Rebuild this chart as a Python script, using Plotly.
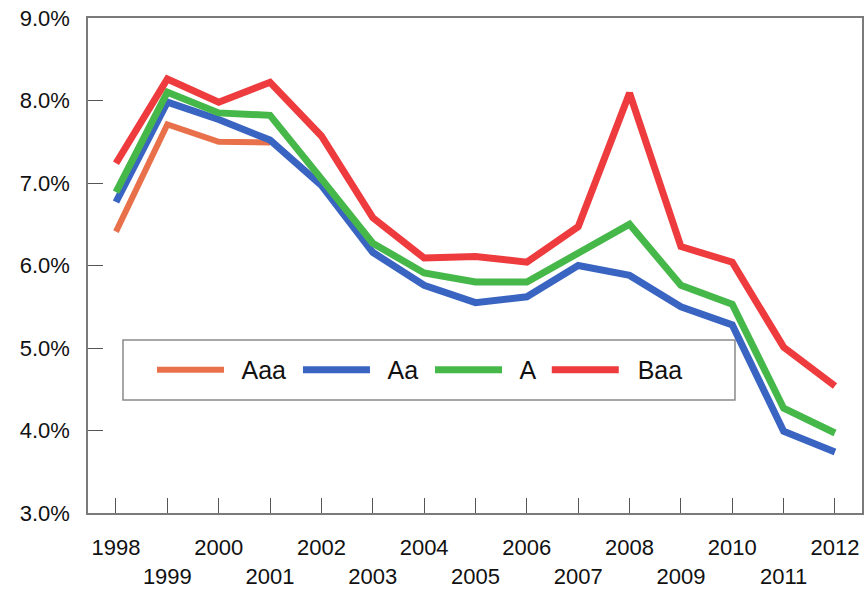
import plotly.graph_objects as go

# Yields by rating, annual, 1998-2012 (percent)
years = list(range(1998, 2013))
aaa = [6.41, 7.71, 7.50, 7.49] + [None] * 11
aa = [6.77, 7.98, 7.77, 7.52, 6.97, 6.16, 5.76, 5.55, 5.62, 6.00, 5.88, 5.50, 5.28, 3.99, 3.74]
a = [6.89, 8.10, 7.85, 7.82, 7.05, 6.27, 5.91, 5.80, 5.80, 6.16, 6.50, 5.76, 5.53, 4.27, 3.97]
baa = [7.24, 8.26, 7.98, 8.22, 7.57, 6.58, 6.09, 6.11, 6.04, 6.47, 8.09, 6.23, 6.04, 5.01, 4.54]

series_names = ["Aaa", "Aa", "A", "Baa"]
series_values = [aaa, aa, a, baa]
series_colors = ["#E8704B", "#3A64C2", "#46B84A", "#EE3B3E"]
series_widths = [6, 7, 7, 7]

# Even years on the first row of labels, odd years on the second
tick_labels = [str(y) if y % 2 == 0 else "<br>" + str(y) for y in years]
y_ticks = [3, 4, 5, 6, 7, 8, 9]
y_tick_labels = ["%.1f%%" % v for v in y_ticks]

FONT = "Arial, Liberation Sans, sans-serif"

fig = go.Figure()
for name, vals, col, w in zip(series_names, series_values, series_colors, series_widths):
    fig.add_trace(go.Scatter(
        x=years, y=vals, name="  " + name + " ", mode="lines",
        line=dict(color=col, width=w), connectgaps=False,
    ))

fig.update_layout(
    width=865, height=590,
    margin=dict(l=88, r=3, t=18, b=77),
    paper_bgcolor="white", plot_bgcolor="white",
    font=dict(family=FONT, size=21, color="#111"),
    showlegend=True,
    legend=dict(
        orientation="h", x=0.0827, xanchor="left", y=0.289, yanchor="middle",
        bgcolor="rgba(0,0,0,0)", borderwidth=0,
        font=dict(family=FONT, size=25, color="#111"),
        itemwidth=67, tracegroupgap=0,
    ),
    shapes=[dict(
        type="rect", xref="paper", yref="paper",
        x0=0.0452, x1=0.8359, y0=0.2283, y1=0.3495,
        line=dict(color="#8a8a8a", width=1.5), fillcolor="rgba(0,0,0,0)",
        layer="below",
    )],
)

fig.update_xaxes(
    range=[1997.455, 2012.526],
    tickvals=years, ticktext=tick_labels,
    ticks="inside", ticklen=15, tickwidth=1, tickcolor="#555",
    showline=True, linecolor="#7a7a7a", linewidth=1.5, mirror=True,
    showgrid=False, zeroline=False, automargin=False,
    tickfont=dict(family=FONT, size=22, color="#111"),
    ticklabelstandoff=14,
)
fig.update_yaxes(
    range=[3, 9],
    tickvals=y_ticks, ticktext=y_tick_labels,
    ticks="inside", ticklen=15, tickwidth=1, tickcolor="#555",
    showline=True, linecolor="#7a7a7a", linewidth=1.5, mirror=True,
    showgrid=False, zeroline=False, automargin=False,
    tickfont=dict(family=FONT, size=22, color="#111"),
    ticklabelstandoff=12,
)

fig.write_html("out.html")
